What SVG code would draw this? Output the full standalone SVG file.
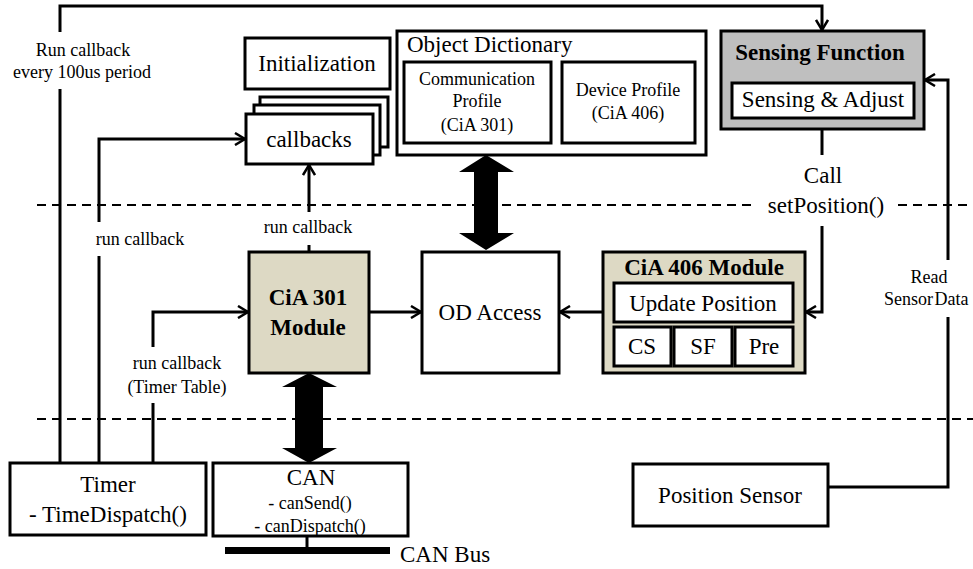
<svg xmlns="http://www.w3.org/2000/svg" width="973" height="569" viewBox="0 0 973 569">
  <style>
    text { font-family: "Liberation Serif", "Times New Roman", serif; fill: #000; }
    .box { fill: #fff; stroke: #000; stroke-width: 3; }
    .beige { fill: #ddd9c4; stroke: #000; stroke-width: 3; }
    .grey { fill: #bfbfbf; stroke: #000; stroke-width: 3; }
    .line { fill: none; stroke: #000; stroke-width: 3; }
    .arrow { fill: none; stroke: #000; stroke-width: 3; marker-end: url(#head); }
    .dash { fill: none; stroke: #000; stroke-width: 2; stroke-dasharray: 9 6; }
    .big { font-size: 23px; }
    .small { font-size: 18px; }
    .bold { font-weight: bold; }
    .c { text-anchor: middle; }
  </style>
  <defs>
    <marker id="head" viewBox="0 0 14 14" refX="12" refY="7" markerWidth="14" markerHeight="14" markerUnits="userSpaceOnUse" orient="auto">
      <path d="M2,1 L12,7 L2,13" fill="none" stroke="#000" stroke-width="2.5"/>
    </marker>
  </defs>

  <!-- layer separators -->
  <g id="separators">
    <path class="dash" d="M37,205 H752 M898,205 H973"/>
    <path class="dash" d="M37,419 H973"/>
  </g>

  <!-- connectors -->
  <g id="connectors">
    <!-- timer periodic callback to sensing function -->
    <path class="line" d="M60,463 V89"/>
    <path class="arrow" d="M60,32 V6 H822 V30"/>
    <!-- timer run callback -->
    <path class="line" d="M99,463 V256"/>
    <path class="arrow" d="M99,222 V139 H245"/>
    <!-- timer table -->
    <path class="line" d="M153,463 V403"/>
    <path class="arrow" d="M153,347 V312 H248"/>
    <!-- CiA 301 run callback -->
    <path class="line" d="M309,252 V245"/>
    <path class="arrow" d="M309,212 V165"/>
    <!-- module to OD access -->
    <path class="arrow" d="M369,312 H421"/>
    <path class="arrow" d="M603,312 H560"/>
    <!-- sensing function call setPosition -->
    <path class="line" d="M822,129 V155"/>
    <path class="arrow" d="M822,226 V312 H806"/>
    <!-- read sensor data -->
    <path class="line" d="M828,487 H948 V317"/>
    <path class="arrow" d="M948,260 V80 H925"/>
    <!-- CAN bus -->
    <path class="line" d="M307,536 V548"/>
    <rect x="225" y="547" width="165" height="7" fill="#000"/>
    <!-- bidirectional access arrows -->
    <polygon points="486,155 514,172 498,172 498,233 514,233 486,250 459,233 474,233 474,172 459,172" fill="#000"/>
    <polygon points="309,373 337,387 323,387 323,448 337,448 309,463 282,448 295,448 295,387 282,387" fill="#000"/>
  </g>

  <g id="run-callback-period">
    <text class="small c" x="83" y="56">Run callback</text>
    <text class="small c" x="82" y="78">every 100us period</text>
  </g>
  <g id="label-run-callback-left">
    <text class="small c" x="140" y="245">run callback</text>
  </g>
  <g id="label-run-callback-center">
    <text class="small c" x="308" y="233">run callback</text>
  </g>
  <g id="label-timer-table">
    <text class="small c" x="177" y="369">run callback</text>
    <text class="small c" x="177" y="393">(Timer Table)</text>
  </g>
  <g id="label-set-position">
    <text class="big c" x="823" y="183">Call</text>
    <text class="big c" x="826" y="213">setPosition()</text>
  </g>
  <g id="label-read-sensor">
    <text class="small c" x="929" y="283">Read</text>
    <text class="small" x="884" y="305" word-spacing="-3">Sensor Data</text>
  </g>

  <g id="initialization">
    <rect class="box" x="245" y="38" width="145" height="51"/>
    <text class="big c" x="317" y="71">Initialization</text>
  </g>

  <g id="callbacks">
    <rect class="box" x="260" y="97" width="128" height="50"/>
    <rect class="box" x="254" y="105" width="126" height="50"/>
    <rect class="box" x="246" y="114" width="127" height="50"/>
    <text class="big c" x="309" y="147">callbacks</text>
  </g>

  <g id="object-dictionary">
    <rect class="box" x="397" y="31" width="309" height="124"/>
    <text class="big" x="407" y="52">Object Dictionary</text>
    <rect class="box" x="404" y="62" width="147" height="81"/>
    <text class="small c" x="477" y="85">Communication</text>
    <text class="small c" x="477" y="107">Profile</text>
    <text class="small c" x="477" y="131">(CiA 301)</text>
    <rect class="box" x="562" y="62" width="133" height="81"/>
    <text class="small c" x="628" y="96">Device Profile</text>
    <text class="small c" x="628" y="119">(CiA 406)</text>
  </g>

  <g id="sensing-function">
    <rect class="grey" x="721" y="31" width="203" height="98"/>
    <text class="big bold c" x="820" y="60">Sensing Function</text>
    <rect class="box" x="732" y="83" width="182" height="35"/>
    <text class="big c" x="823" y="107">Sensing &amp; Adjust</text>
  </g>

  <g id="cia301-module">
    <rect class="beige" x="249" y="252" width="120" height="121"/>
    <text class="big bold c" x="308" y="305">CiA 301</text>
    <text class="big bold c" x="308" y="335">Module</text>
  </g>

  <g id="od-access">
    <rect class="box" x="422" y="252" width="137" height="121"/>
    <text class="big c" x="490" y="320">OD Access</text>
  </g>

  <g id="cia406-module">
    <rect class="beige" x="603" y="252" width="202" height="121"/>
    <text class="big bold c" x="704" y="275">CiA 406 Module</text>
    <rect class="box" x="614" y="283" width="179" height="39"/>
    <text class="big c" x="703" y="311">Update Position</text>
    <rect class="box" x="614" y="327" width="57" height="39"/>
    <text class="big c" x="642" y="354">CS</text>
    <rect class="box" x="674" y="327" width="58" height="39"/>
    <text class="big c" x="703" y="354">SF</text>
    <rect class="box" x="735" y="327" width="58" height="39"/>
    <text class="big c" x="764" y="354">Pre</text>
  </g>

  <g id="timer">
    <rect class="box" x="10" y="463" width="196" height="72"/>
    <text class="big c" x="108" y="492">Timer</text>
    <text class="big c" x="108" y="522">- TimeDispatch()</text>
  </g>

  <g id="can">
    <rect class="box" x="213" y="463" width="195" height="73"/>
    <text class="big c" x="311" y="485">CAN</text>
    <text class="small c" x="310" y="509">- canSend()</text>
    <text class="small c" x="310" y="532">- canDispatch()</text>
  </g>

  <g id="can-bus-label">
    <text class="big" x="400" y="562">CAN Bus</text>
  </g>

  <g id="position-sensor">
    <rect class="box" x="633" y="464" width="195" height="62"/>
    <text class="big c" x="730" y="503">Position Sensor</text>
  </g>
</svg>
